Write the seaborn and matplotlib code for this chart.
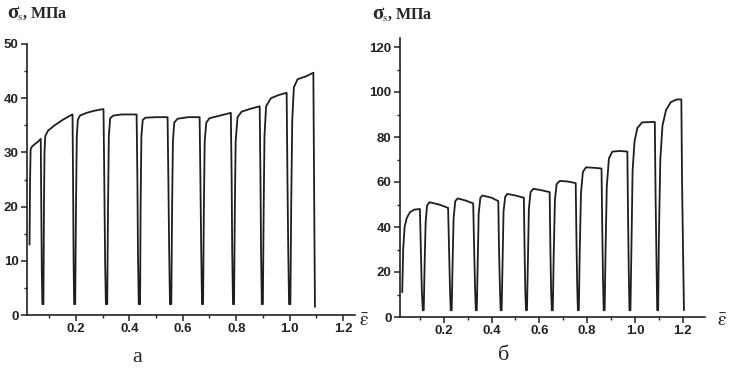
import matplotlib
matplotlib.use("Agg")
import matplotlib.pyplot as plt
from matplotlib.ticker import MultipleLocator
import pandas as pd
import seaborn as sns

# --- Data --------------------------------------------------------------------
# Panel a: stress-strain with unloading, sigma in MPa vs mean strain
eps_a = [0.026, 0.028, 0.030, 0.034, 0.045, 0.058, 0.068, 0.070, 0.072, 0.074,
         0.078, 0.080, 0.082, 0.085, 0.095, 0.120, 0.150, 0.175, 0.187, 0.189, 0.191, 0.193,
         0.197, 0.200, 0.203, 0.207, 0.215, 0.240, 0.270, 0.303, 0.306, 0.309, 0.312,
         0.317, 0.320, 0.323, 0.328, 0.340, 0.370, 0.400, 0.427, 0.430, 0.432, 0.435,
         0.440, 0.442, 0.445, 0.450, 0.460, 0.500, 0.543, 0.546, 0.549, 0.552,
         0.557, 0.560, 0.563, 0.568, 0.580, 0.620, 0.663, 0.666, 0.669, 0.672,
         0.676, 0.679, 0.682, 0.688, 0.700, 0.740, 0.780, 0.783, 0.785, 0.788,
         0.792, 0.795, 0.798, 0.805, 0.820, 0.850, 0.888, 0.891, 0.893, 0.896,
         0.900, 0.903, 0.906, 0.912, 0.930, 0.960, 0.989, 0.992, 0.995, 0.998,
         1.003, 1.006, 1.010, 1.016, 1.030, 1.060, 1.089, 1.091, 1.093, 1.095]
sig_a = [13, 25, 30.5, 31, 31.5, 32, 32.5, 20, 8, 2,
         2, 20, 30, 33, 34, 35, 36, 36.7, 37, 25, 10, 2,
         2, 20, 33, 36, 36.8, 37.3, 37.7, 38, 25, 10, 2,
         2, 20, 33, 36.3, 36.8, 37, 37, 37, 25, 12, 2,
         2, 20, 33, 36, 36.4, 36.5, 36.5, 25, 12, 2,
         2, 20, 32, 35.5, 36.2, 36.5, 36.5, 25, 12, 2,
         2, 20, 32, 35.5, 36.3, 36.8, 37.3, 25, 12, 2,
         2, 20, 32, 36.5, 37.5, 38, 38.5, 25, 12, 2,
         2, 20, 33, 38.5, 40, 40.6, 41, 25, 12, 2,
         2, 20, 36, 42, 43.5, 44, 44.7, 30, 15, 1.5]

# Panel b
eps_b = [0.026, 0.030, 0.036, 0.045, 0.058, 0.075, 0.100, 0.104, 0.108, 0.112,
         0.116, 0.120, 0.124, 0.130, 0.140, 0.180, 0.218, 0.222, 0.226, 0.229,
         0.233, 0.237, 0.241, 0.248, 0.258, 0.290, 0.323, 0.327, 0.331, 0.334,
         0.338, 0.342, 0.346, 0.353, 0.362, 0.400, 0.428, 0.431, 0.435, 0.438,
         0.442, 0.446, 0.450, 0.457, 0.466, 0.500, 0.535, 0.538, 0.541, 0.544,
         0.548, 0.552, 0.556, 0.563, 0.575, 0.610, 0.643, 0.646, 0.649, 0.652,
         0.656, 0.660, 0.665, 0.672, 0.685, 0.720, 0.752, 0.755, 0.758, 0.761,
         0.765, 0.769, 0.774, 0.782, 0.795, 0.830, 0.860, 0.863, 0.866, 0.869,
         0.873, 0.877, 0.882, 0.891, 0.905, 0.940, 0.968, 0.971, 0.974, 0.977,
         0.981, 0.985, 0.990, 0.998, 1.010, 1.030, 1.083, 1.086, 1.090, 1.093,
         1.097, 1.100, 1.106, 1.115, 1.130, 1.150, 1.175, 1.194, 1.197, 1.201, 1.205]
sig_b = [11, 30, 40, 44, 46.5, 47.7, 48, 30, 12, 3,
         3, 25, 42, 49.5, 51, 50, 48.5, 30, 12, 3,
         3, 25, 44, 51.5, 52.7, 51.8, 50.5, 30, 12, 3,
         3, 25, 46, 53, 54, 53, 51.5, 30, 12, 3,
         3, 25, 47, 53.5, 54.7, 54, 53, 30, 12, 3,
         3, 25, 48, 55.5, 57, 56.3, 55.5, 30, 12, 3,
         3, 28, 52, 59, 60.5, 60.2, 59.5, 35, 15, 3,
         3, 30, 55, 64.5, 66.5, 66.3, 66, 40, 18, 3,
         3, 30, 58, 70.5, 73.5, 73.8, 73.5, 45, 20, 3,
         3, 30, 65, 78, 84, 86.5, 86.7, 55, 25, 3,
         3, 35, 70, 85, 92, 95.5, 96.7, 96.7, 60, 30, 3]

panel_letters = ["а", "б"]
y_symbol = "σ"
y_rest = "$_{\\mathrm{s}}$, МПа"
x_label = r"$\bar{\mathrm{\varepsilon}}$"

# --- Style --------------------------------------------------------------------
sns.set_style("ticks")
plt.rcParams["font.family"] = ["Liberation Sans", "DejaVu Sans"]
plt.rcParams["mathtext.fontset"] = "stix"

fig = plt.figure(figsize=(7.29, 3.70), dpi=100)
ax_a = fig.add_axes([27 / 729, 1 - 315 / 370, 328 / 729, 271 / 370])
ax_b = fig.add_axes([400 / 729, 1 - 317 / 370, 305 / 729, 279 / 370])

df_a = pd.DataFrame({"eps": eps_a, "sig": sig_a})
df_b = pd.DataFrame({"eps": eps_b, "sig": sig_b})

for ax, df in [(ax_a, df_a), (ax_b, df_b)]:
    sns.lineplot(data=df, x="eps", y="sig", ax=ax, estimator=None, sort=False,
                 color="#1e1e1e", linewidth=1.3)

ax_a.set_xlim(0.0165, 1.245)
ax_a.set_ylim(0, 50)
ax_a.yaxis.set_major_locator(MultipleLocator(10))
ax_a.yaxis.set_minor_locator(MultipleLocator(5))

ax_b.set_xlim(0.0167, 1.293)
ax_b.set_ylim(0, 124)
ax_b.yaxis.set_major_locator(MultipleLocator(20))
ax_b.yaxis.set_minor_locator(MultipleLocator(10))

for ax in (ax_a, ax_b):
    ax.xaxis.set_major_locator(MultipleLocator(0.2))
    ax.xaxis.set_minor_locator(MultipleLocator(0.1))
    ax.xaxis.set_major_formatter(lambda v, p: f"{v:.1f}")
    ax.set_xlabel("")
    ax.set_ylabel("")
    sns.despine(ax=ax)
    for s in ("left", "bottom"):
        ax.spines[s].set_linewidth(1.2)
        ax.spines[s].set_color("#222222")
    ax.tick_params(which="major", direction="out", length=4, width=1.1,
                   labelsize=9.5, pad=2, colors="#222222")
    ax.tick_params(which="minor", direction="out", length=2.5, width=1.0,
                   colors="#222222")
    for lab in ax.get_xticklabels() + ax.get_yticklabels():
        lab.set_fontweight("bold")

# axis titles and panel letters
for x0, y0 in [(7, 18), (372, 19)]:
    fig.text(x0 / 729, 1 - y0 / 370, y_symbol, family="Liberation Serif",
             fontsize=15, fontweight="bold", va="baseline", ha="left")
    fig.text((x0 + 10) / 729, 1 - y0 / 370, y_rest, family="Liberation Serif",
             fontsize=11.5, fontweight="bold", va="baseline", ha="left")
fig.text(364 / 729, 1 - 322 / 370, x_label, fontsize=14, va="center", ha="center")
fig.text(722 / 729, 1 - 322 / 370, x_label, fontsize=14, va="center", ha="center")
fig.text(137 / 729, 1 - 357 / 370, panel_letters[0], family="Liberation Serif",
         fontsize=16, va="center", ha="center")
fig.text(504 / 729, 1 - 355 / 370, panel_letters[1], family="Liberation Serif",
         fontsize=16, va="center", ha="center")

fig.savefig("out.png", dpi=100)
